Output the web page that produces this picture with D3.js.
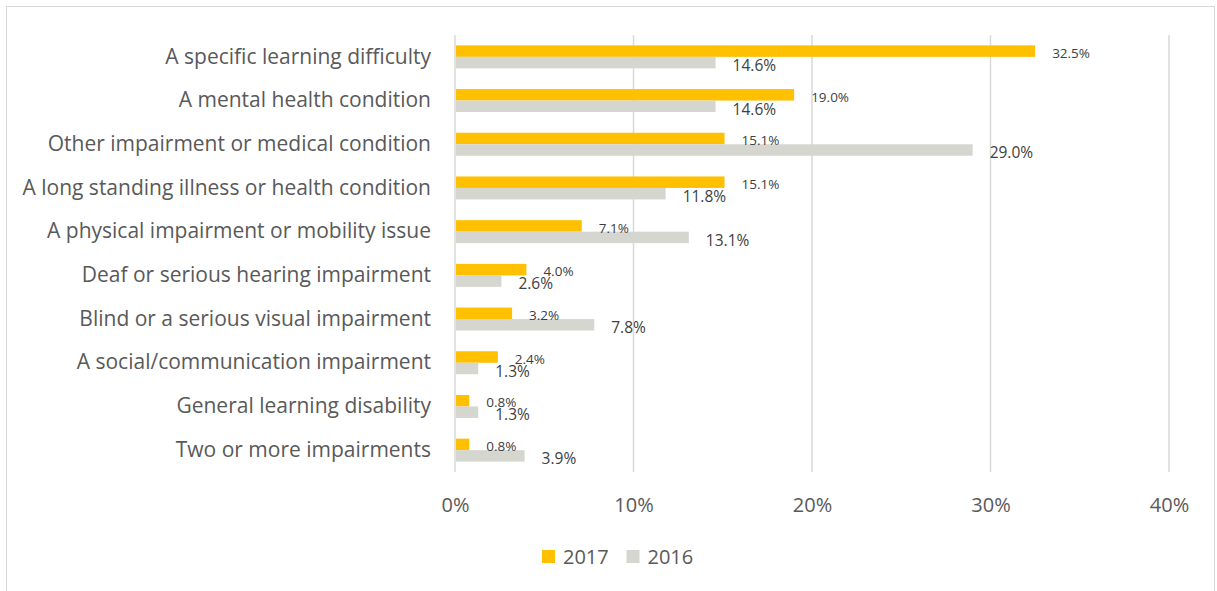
<!DOCTYPE html>
<html>
<head>
<meta charset="utf-8">
<script src="https://cdn.jsdelivr.net/npm/d3@7"></script>
<style>
  body { margin: 0; background: #fff; }
  svg text { font-family: "Open Sans", sans-serif; }
</style>
</head>
<body>
<div id="chart"></div>
<script>
// data
const categories = [
    "A specific learning difficulty",
    "A mental health condition",
    "Other impairment or medical condition",
    "A long standing illness or health condition",
    "A physical impairment or mobility issue",
    "Deaf or serious hearing impairment",
    "Blind or a serious visual impairment",
    "A social/communication impairment",
    "General learning disability",
    "Two or more impairments"
];
const values2017 = [32.5, 19.0, 15.1, 15.1, 7.1, 4.0, 3.2, 2.4, 0.8, 0.8];
const values2016 = [14.6, 14.6, 29.0, 11.8, 13.1, 2.6, 7.8, 1.3, 1.3, 3.9];
const seriesNames = ["2017", "2016"];
const xTicks = [0, 10, 20, 30, 40];

// set dimensions
const width = 1217,
    height = 591,
    margin = {
        top: 35,
        right: 48,
        bottom: 119,
        left: 455
    };

const colors = { "2017": "#FFC000", "2016": "#D6D6D1" };

// create svg
const svg = d3.select("#chart")
    .append("svg")
    .attr("width", width)
    .attr("height", height);

// outer border
svg.append("rect")
    .attr("x", 6.5)
    .attr("y", 6.5)
    .attr("width", 1208)
    .attr("height", 600)
    .attr("fill", "none")
    .attr("stroke", "#D9D9D9");

// scales
const x = d3.scaleLinear()
    .domain([0, 40])
    .range([margin.left, width - margin.right]);

const y = d3.scaleBand()
    .domain(categories)
    .range([margin.top, height - margin.bottom])
    .paddingInner(0.474)
    .paddingOuter(0.237);

const ySub = d3.scaleBand()
    .domain(seriesNames)
    .range([0, y.bandwidth()]);

// gridlines
svg.append("g")
    .selectAll("line")
    .data(xTicks)
    .enter()
    .append("line")
    .attr("x1", d => x(d))
    .attr("x2", d => x(d))
    .attr("y1", margin.top)
    .attr("y2", height - margin.bottom)
    .attr("stroke", "#D9D9D9")
    .attr("stroke-width", 1.5);

// x axis
const xAxis = d3.axisBottom(x)
    .tickValues(xTicks)
    .tickSize(0)
    .tickPadding(0)
    .tickFormat(d => d + "%");

svg.append("g")
    .attr("transform", "translate(0, 512)")
    .call(xAxis)
    .call(g => g.select(".domain").remove())
    .call(g => g.selectAll("text")
        .attr("y", 0)
        .attr("dy", 0)
        .attr("font-size", 20)
        .attr("fill", "#595959")
        .attr("font-family", "Open Sans, sans-serif"));

// y axis labels
const yAxis = d3.axisLeft(y)
    .tickSize(0)
    .tickPadding(24);

svg.append("g")
    .attr("transform", `translate(${margin.left}, 0)`)
    .call(yAxis)
    .call(g => g.select(".domain").remove())
    .call(g => g.selectAll("text")
        .attr("font-size", 21)
        .attr("fill", "#595959")
        .attr("font-family", "Open Sans, sans-serif"));

// bars
const rows = categories.map((c, i) => ({
    category: c,
    values: [
        { key: "2017", value: values2017[i] },
        { key: "2016", value: values2016[i] }
    ]
}));

const groups = svg.append("g")
    .selectAll("g")
    .data(rows)
    .enter()
    .append("g")
    .attr("transform", d => `translate(0, ${y(d.category)})`);

groups.selectAll("rect")
    .data(d => d.values)
    .enter()
    .append("rect")
    .attr("x", x(0) + 1)
    .attr("y", d => ySub(d.key))
    .attr("width", d => x(d.value) - x(0) - 1)
    .attr("height", ySub.bandwidth())
    .attr("fill", d => colors[d.key]);

// data labels
groups.selectAll("text")
    .data(d => d.values)
    .enter()
    .append("text")
    .attr("x", d => x(d.value) + 17)
    .attr("y", d => ySub(d.key) + ySub.bandwidth() + (d.key === "2017" ? 1 : 2.5))
    .attr("font-size", d => d.key === "2017" ? 13.5 : 15.5)
    .attr("fill", "#404040")
    .text(d => d.value.toFixed(1) + "%");

// legend
const legend = svg.append("g")
    .attr("transform", "translate(542, 550)");

const legendItems = legend.selectAll("g")
    .data(seriesNames)
    .enter()
    .append("g")
    .attr("transform", (d, i) => `translate(${i * 84.5}, 0)`);

legendItems.append("rect")
    .attr("width", 13)
    .attr("height", 13)
    .attr("fill", d => colors[d]);

legendItems.append("text")
    .attr("x", 21)
    .attr("y", 14)
    .attr("font-size", 20)
    .attr("fill", "#595959")
    .text(d => d);
</script>
</body>
</html>
